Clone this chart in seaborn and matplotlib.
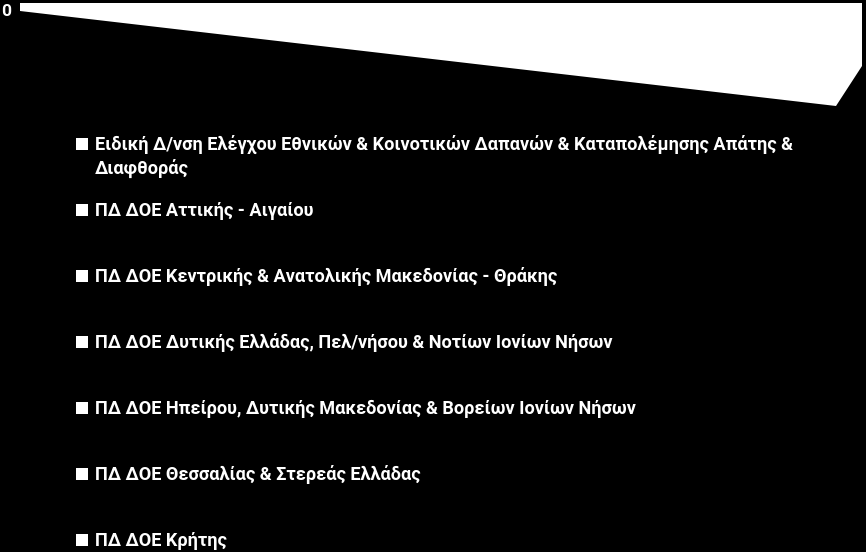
import matplotlib
matplotlib.use("Agg")
import matplotlib.pyplot as plt
import seaborn as sns
from matplotlib.patches import Rectangle, Polygon

categories = [
    "Ειδική Δ/νση Ελέγχου Εθνικών & Κοινοτικών Δαπανών & Καταπολέμησης Απάτης &\nΔιαφθοράς",
    "ΠΔ ΔΟΕ Αττικής - Αιγαίου",
    "ΠΔ ΔΟΕ Κεντρικής & Ανατολικής Μακεδονίας - Θράκης",
    "ΠΔ ΔΟΕ Δυτικής Ελλάδας, Πελ/νήσου & Νοτίων Ιονίων Νήσων",
    "ΠΔ ΔΟΕ Ηπείρου, Δυτικής Μακεδονίας & Βορείων Ιονίων Νήσων",
    "ΠΔ ΔΟΕ Θεσσαλίας & Στερεάς Ελλάδας",
    "ΠΔ ΔΟΕ Κρήτης",
]
values = [0, 0, 0, 0, 0, 0, 0]
y_ticks = [0]
colors = ["white"] * len(categories)

sns.set_style("dark")
plt.rcParams["font.family"] = ["Roboto", "DejaVu Sans"]

W, H = 866, 552
fig = plt.figure(figsize=(W / 100, H / 100), dpi=100, facecolor="black")

# background axes in pixel units (for the 3D floor and the legend)
bg = fig.add_axes([0, 0, 1, 1])
bg.set_xlim(0, W)
bg.set_ylim(H, 0)
bg.axis("off")
bg.set_facecolor("black")

floor = Polygon([(20, 3), (862, 3), (862, 66), (836, 106), (20, 11)],
                closed=True, facecolor="white", edgecolor="none")
bg.add_patch(floor)

# chart axes at the back edge of the floor
ax = fig.add_axes([22 / W, 1 - 13 / H, 838 / W, 10 / H])
ax.patch.set_alpha(0)
sns.barplot(x=list(range(len(categories))), y=values, hue=list(range(len(categories))),
            palette=colors, legend=False, ax=ax)
ax.set_ylim(-0.3, 0.7)
ax.set_yticks(y_ticks)
ax.set_yticklabels([str(t) for t in y_ticks], color="white", fontsize=12.5, fontweight="bold")
ax.set_xticks([])
ax.set_xlabel("")
ax.set_ylabel("")
ax.tick_params(axis="y", colors="white", length=4, width=1.2, pad=4)
for s in ax.spines.values():
    s.set_visible(False)
ax.grid(False)

# legend
baselines = [150, 216, 282, 348, 414, 480, 546]
for lab, base, col in zip(categories, baselines, colors):
    bg.add_patch(Rectangle((76, base - 12), 12, 12, facecolor=col, edgecolor="none"))
    lines = lab.split("\n")
    for i, line in enumerate(lines):
        bg.text(95, base + 24 * i, line, color="white", fontsize=13.1,
                fontweight="bold", va="baseline", ha="left")

fig.savefig("out.png", dpi=100, facecolor="black")
